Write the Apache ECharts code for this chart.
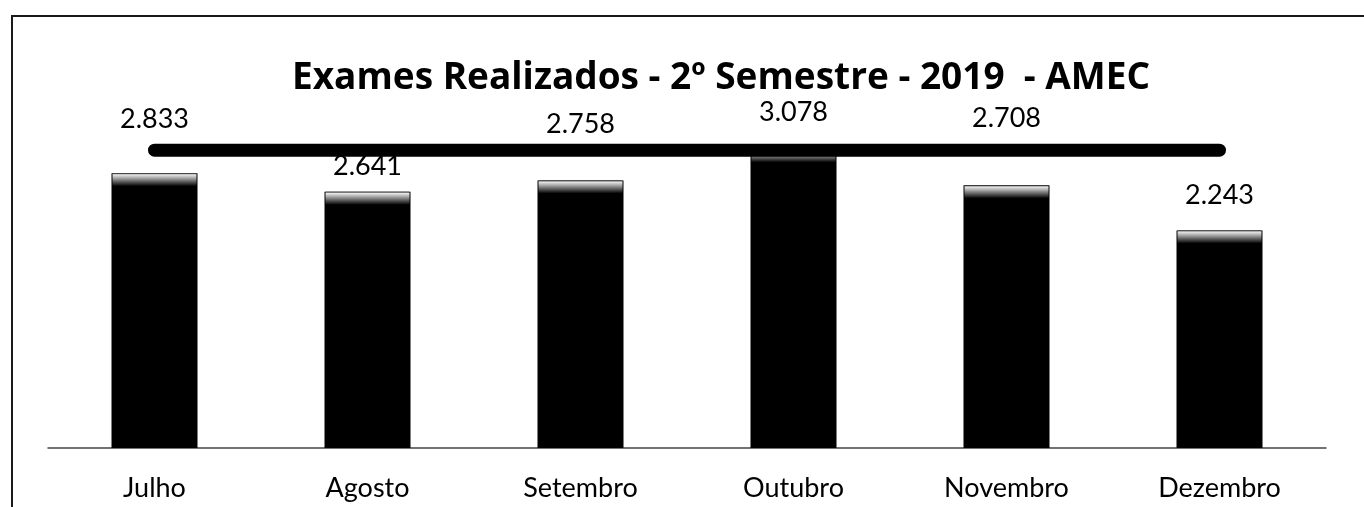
<!DOCTYPE html>
<html>
<head>
<meta charset="utf-8">
<script src="https://cdn.jsdelivr.net/npm/echarts@6/dist/echarts.min.js"></script>
<style>
  html, body { margin: 0; padding: 0; background: #fff; }
  #chart { width: 1364px; height: 507px; }
</style>
</head>
<body>
<div id="chart"></div>
<script>
// Exames realizados por mês, 2º semestre de 2019
const meses = ['Julho', 'Agosto', 'Setembro', 'Outubro', 'Novembro', 'Dezembro'];
const exames = [2833, 2641, 2758, 3078, 2708, 2243];
// faixa horizontal de destaque que atravessa o gráfico
const faixa = [3070, 3070, 3070, 3070, 3070, 3070];
// distância de cada rótulo acima da sua barra (px)
const afastamentoRotulo = [40, 12, 43, 24, 54, 22];

const fonte = 'Lato, "Open Sans", "Noto Sans", sans-serif';
const fonteTitulo = '"Open Sans", "Noto Sans", sans-serif';
const fmt = v => (v / 1000).toFixed(3);

const chart = echarts.init(document.getElementById('chart'), null, { renderer: 'canvas' });

chart.setOption({
  backgroundColor: '#ffffff',
  animation: false,
  title: {
    text: 'Exames Realizados - 2º Semestre - 2019  - AMEC',
    left: 716,
    top: 55,
    textAlign: 'center',
    textStyle: { fontFamily: fonteTitulo, fontWeight: 'bold', fontSize: 37, color: '#000' }
  },
  graphic: [{
    type: 'rect',
    shape: { x: 12, y: 16, width: 1400, height: 600 },
    style: { fill: 'none', stroke: '#1a1a1a', lineWidth: 2 },
    silent: true,
    z: 100
  }],
  grid: { left: 48, right: 38, top: 108.5, bottom: 59 },
  xAxis: {
    type: 'category',
    data: meses,
    axisTick: { show: false },
    axisLine: { lineStyle: { color: '#444', width: 1.5 } },
    axisLabel: { fontFamily: fonte, fontSize: 27, color: '#000', margin: 27 }
  },
  yAxis: {
    type: 'value',
    min: 0,
    max: 3500,
    show: false,
    splitLine: { show: false }
  },
  series: [
    {
      type: 'bar',
      data: exames.map((v, i) => ({
        value: v,
        label: { distance: afastamentoRotulo[i] }
      })),
      barWidth: 86,
      itemStyle: { color: '#000' },
      label: {
        show: true,
        position: 'top',
        formatter: p => fmt(p.value),
        fontFamily: fonte,
        fontSize: 27,
        color: '#000'
      },
      z: 2
    },
    {
      // brilho cinzento no topo de cada barra
      type: 'pictorialBar',
      data: exames,
      symbol: 'rect',
      symbolSize: [84, 13],
      symbolPosition: 'end',
      itemStyle: {
        color: new echarts.graphic.LinearGradient(0, 0, 0, 1, [
          { offset: 0, color: '#222' },
          { offset: 0.12, color: '#e8e8e8' },
          { offset: 0.4, color: '#a0a0a0' },
          { offset: 1, color: '#000' }
        ])
      },
      silent: true,
      z: 3
    },
    {
      type: 'line',
      data: faixa,
      symbol: 'none',
      lineStyle: { color: '#000', width: 13, cap: 'round' },
      silent: true,
      z: 4
    }
  ]
});
</script>
</body>
</html>
